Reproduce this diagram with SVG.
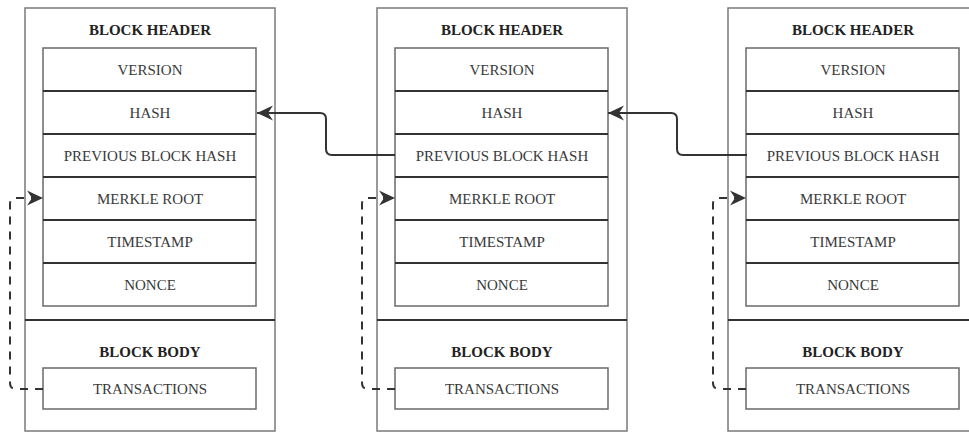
<svg xmlns="http://www.w3.org/2000/svg" width="969" height="432" viewBox="0 0 969 432">
<defs>
<style>
.outer{fill:#fff;stroke:#7a7a7a;stroke-width:1.5}
.inner{fill:#fff;stroke:#6a6a6a;stroke-width:1.5}
.sep{stroke:#333;stroke-width:2}
.div{stroke:#333;stroke-width:2}
.t{font-family:"Liberation Serif","Times New Roman",serif;font-size:15px;fill:#3a3a3a;text-anchor:middle}
.h{font-family:"Liberation Serif","Times New Roman",serif;font-size:15px;font-weight:bold;fill:#222;text-anchor:middle}
.conn{fill:none;stroke:#333;stroke-width:2}
.dash{fill:none;stroke:#333;stroke-width:2;stroke-dasharray:8,7}
</style>
<marker id="ah" markerUnits="userSpaceOnUse" markerWidth="18" markerHeight="18" viewBox="0 0 18 18" refX="17" refY="9" orient="auto">
<path d="M1,1.5 L17,9 L1,16.5 L6,9 z" fill="#333"/>
</marker>
<g id="blockTpl">
<rect class="outer" x="25" y="8" width="250" height="423"/>
<text class="h" x="150" y="35">BLOCK HEADER</text>
<rect class="inner" x="43" y="48" width="213" height="258"/>
<line class="sep" x1="43" y1="91" x2="256" y2="91"/>
<line class="sep" x1="43" y1="134" x2="256" y2="134"/>
<line class="sep" x1="43" y1="177" x2="256" y2="177"/>
<line class="sep" x1="43" y1="220" x2="256" y2="220"/>
<line class="sep" x1="43" y1="263" x2="256" y2="263"/>
<text class="t" x="150" y="75">VERSION</text>
<text class="t" x="150" y="118">HASH</text>
<text class="t" x="150" y="161">PREVIOUS BLOCK HASH</text>
<text class="t" x="150" y="204">MERKLE ROOT</text>
<text class="t" x="150" y="247">TIMESTAMP</text>
<text class="t" x="150" y="290">NONCE</text>
<line class="div" x1="25" y1="320" x2="275" y2="320"/>
<text class="h" x="150" y="357">BLOCK BODY</text>
<rect class="inner" x="43" y="368" width="213" height="41"/>
<text class="t" x="150" y="394">TRANSACTIONS</text>
</g>
</defs>
<g id="block1"><use href="#blockTpl"/></g>
<g id="block2" transform="translate(352,0)"><use href="#blockTpl"/></g>
<g id="block3" transform="translate(703,0)"><use href="#blockTpl"/></g>
<g id="connectors">
<path class="conn" d="M395,155 H332 Q326,155 326,149 V119 Q326,113 320,113 H257" marker-end="url(#ah)"/>
<path class="conn" d="M747,155 H683 Q677,155 677,149 V119 Q677,113 671,113 H608" marker-end="url(#ah)"/>
<path class="dash" d="M43,389 H16 Q10,389 10,383 V204 Q10,198 16,198 H43" marker-end="url(#ah)"/>
<path class="dash" d="M395,389 H368 Q362,389 362,383 V204 Q362,198 368,198 H395" marker-end="url(#ah)"/>
<path class="dash" d="M746,389 H719 Q713,389 713,383 V204 Q713,198 719,198 H746" marker-end="url(#ah)"/>
</g>
</svg>
